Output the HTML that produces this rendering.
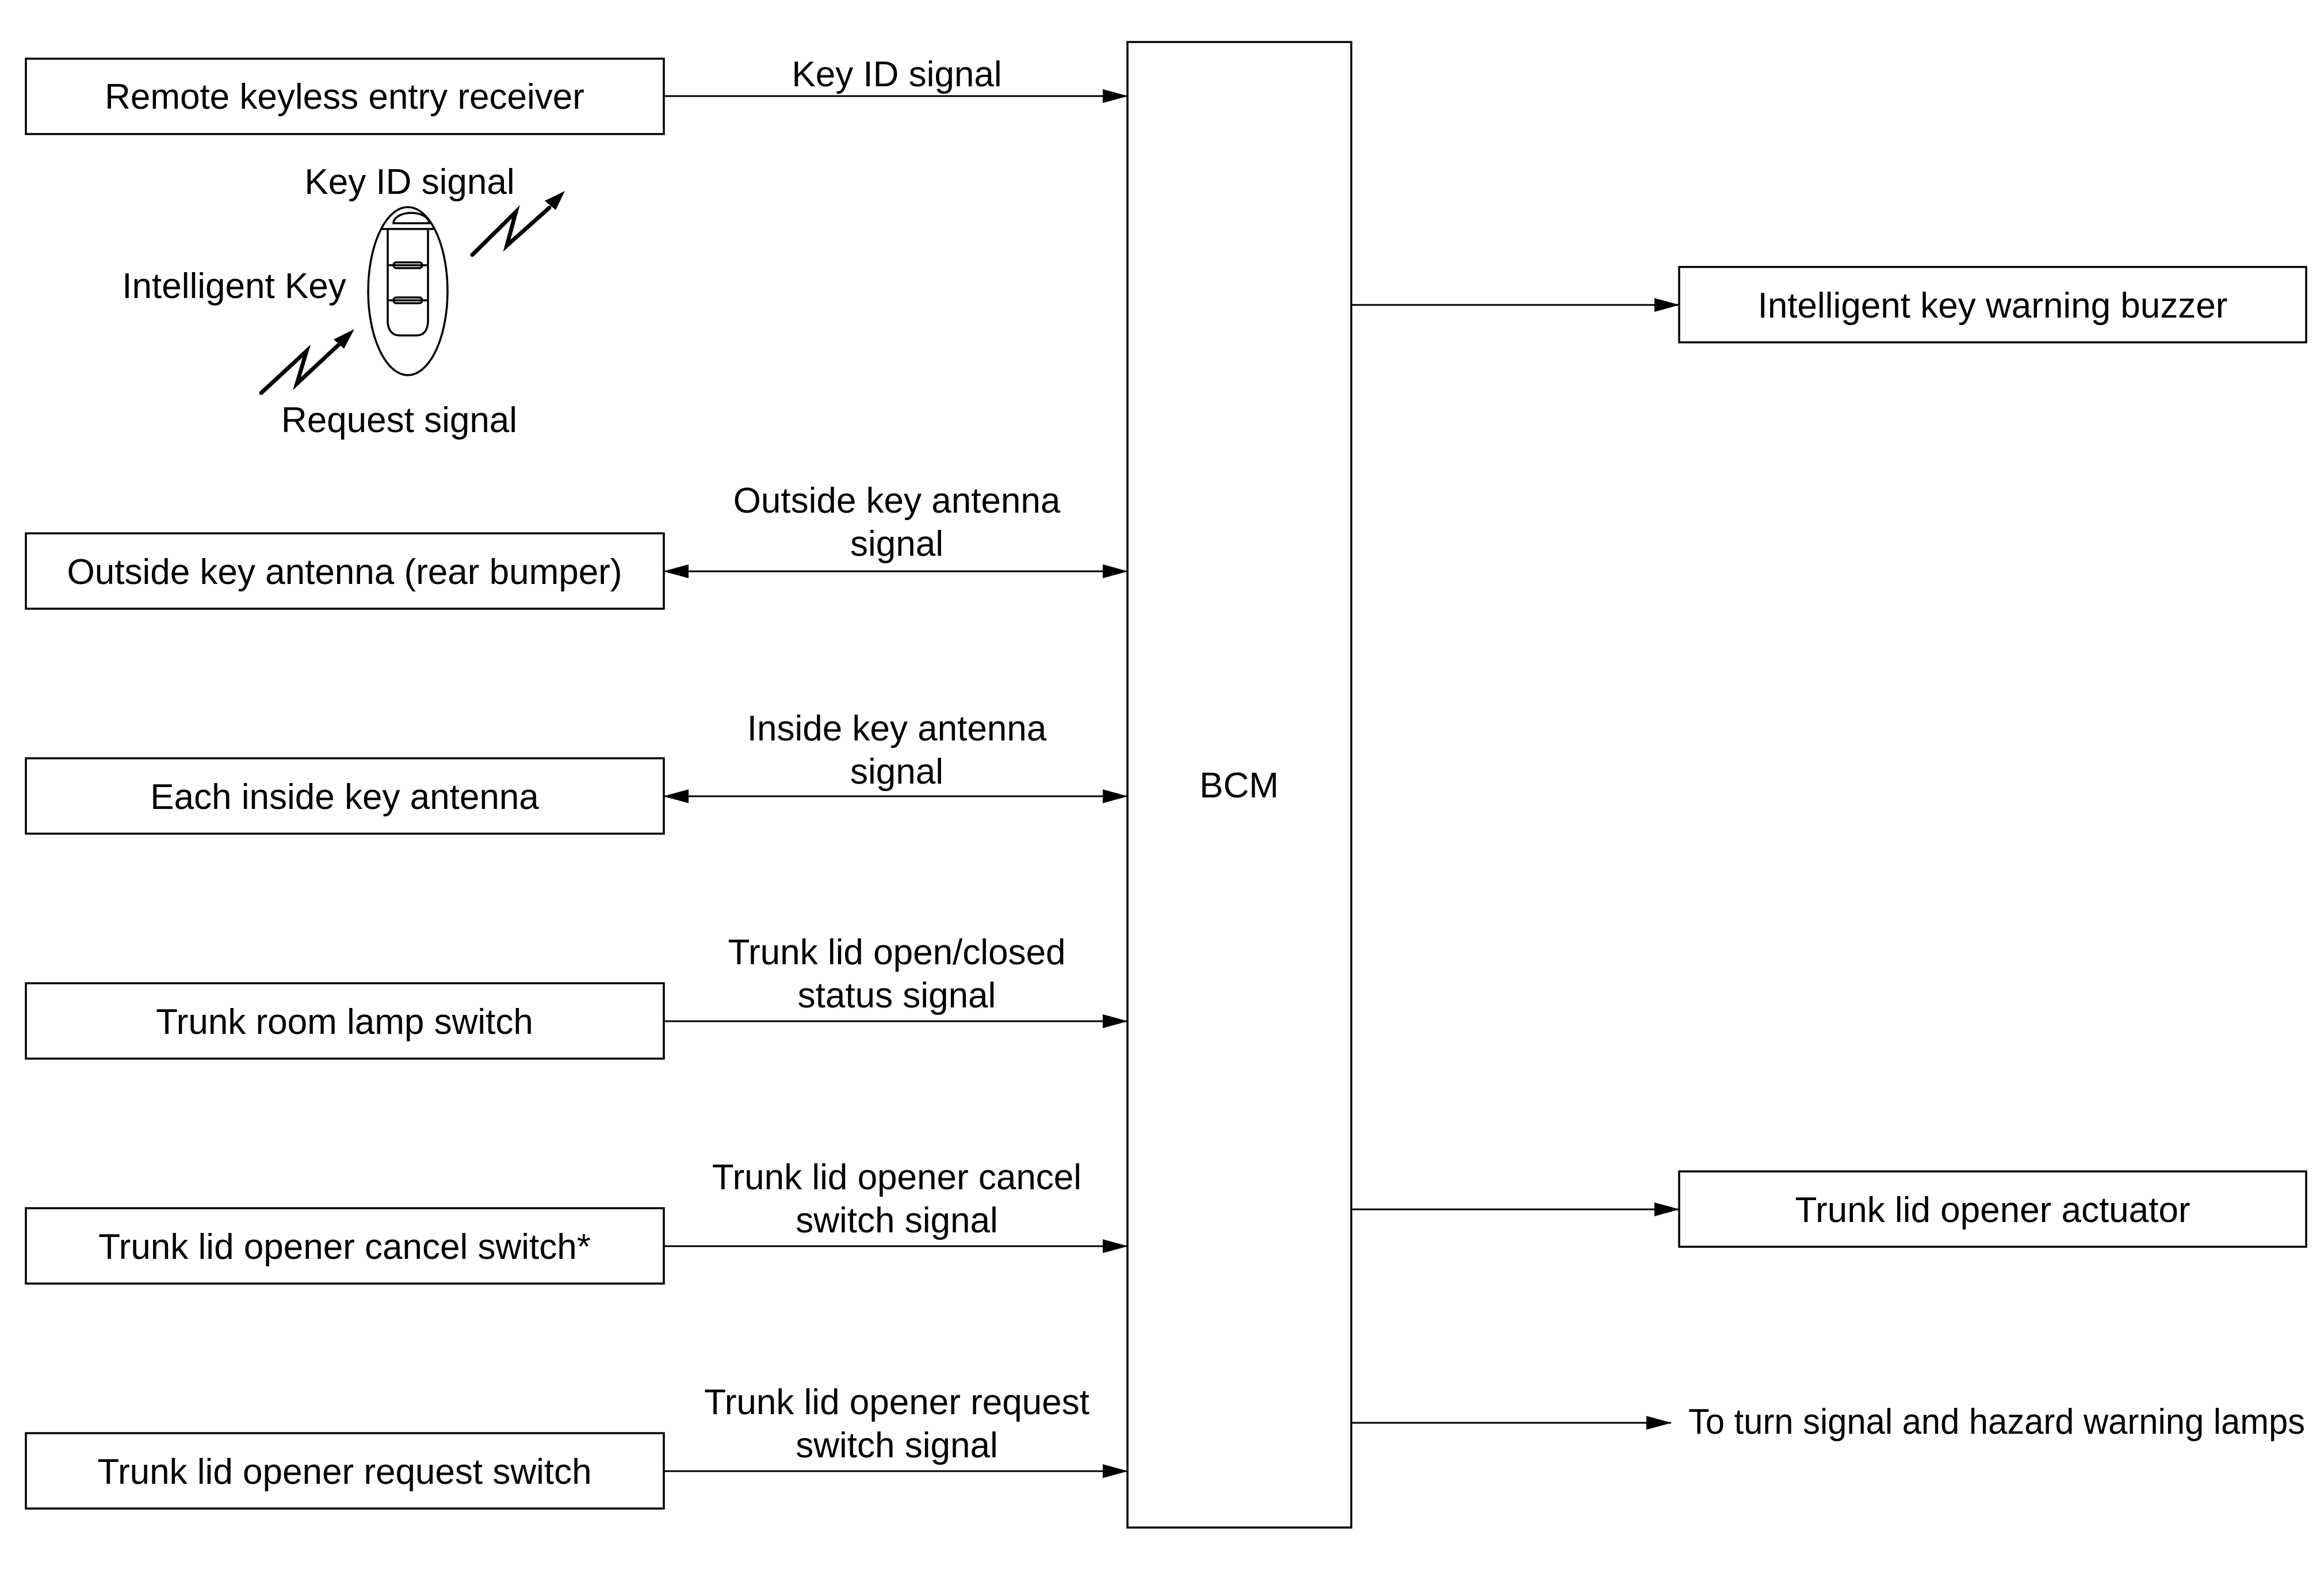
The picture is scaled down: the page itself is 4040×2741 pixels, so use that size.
<!DOCTYPE html>
<html><head><meta charset="utf-8"><style>html,body{margin:0;padding:0;background:#fff}svg{display:block}text{font-family:"Liberation Sans",sans-serif;font-size:62px;fill:#000}</style></head>
<body>
<svg width="4040" height="2741" viewBox="0 0 4040 2741" xmlns="http://www.w3.org/2000/svg">
<defs><marker id="a" markerWidth="44" markerHeight="24" refX="43" refY="12" orient="auto-start-reverse" markerUnits="userSpaceOnUse"><path d="M0,0 L44,12 L0,24 Z" fill="#000"/></marker></defs>
<g fill="none" stroke="#000" stroke-width="3.5">
<rect x="45" y="102" width="1109" height="131"/>
<rect x="45" y="927" width="1109" height="131"/>
<rect x="45" y="1318" width="1109" height="131"/>
<rect x="45" y="1709" width="1109" height="131"/>
<rect x="45" y="2100" width="1109" height="131"/>
<rect x="45" y="2491" width="1109" height="131"/>
<rect x="1960" y="73" width="389" height="2582"/>
<rect x="2919" y="464" width="1090" height="131"/>
<rect x="2919" y="2036" width="1090" height="131"/>
</g>
<g stroke="#000" stroke-width="3">
<line x1="1154" y1="167" x2="1960" y2="167" marker-end="url(#a)"/>
<line x1="1154" y1="993" x2="1960" y2="993" marker-start="url(#a)" marker-end="url(#a)"/>
<line x1="1154" y1="1384" x2="1960" y2="1384" marker-start="url(#a)" marker-end="url(#a)"/>
<line x1="1154" y1="1775" x2="1960" y2="1775" marker-end="url(#a)"/>
<line x1="1154" y1="2166" x2="1960" y2="2166" marker-end="url(#a)"/>
<line x1="1154" y1="2557" x2="1960" y2="2557" marker-end="url(#a)"/>
<line x1="2349" y1="530" x2="2919" y2="530" marker-end="url(#a)"/>
<line x1="2349" y1="2102" x2="2919" y2="2102" marker-end="url(#a)"/>
<line x1="2349" y1="2473" x2="2905" y2="2473" marker-end="url(#a)"/>
</g>
<g fill="none" stroke="#000" stroke-width="3.5">
<ellipse cx="709" cy="506" rx="69" ry="146"/>
<path d="M684,388 A31,18 0 0 1 746,388 Z"/>
<line x1="664" y1="398" x2="755" y2="398"/>
<path d="M674,398 L674,560 Q676,583 695,583 L724,583 Q742,583 744,560 L744,398"/>
<line x1="674" y1="461" x2="744" y2="461"/>
<rect x="684" y="456" width="50" height="10" rx="5"/>
<line x1="674" y1="522" x2="744" y2="522"/>
<rect x="684" y="517" width="50" height="10" rx="5"/>
</g>
<g fill="none" stroke="#000" stroke-width="7" stroke-linejoin="miter" stroke-linecap="round">
<polyline points="821,443 897,368 881,427 955,361"/>
<polyline points="454,683 533,610 516,667 590,598"/>
</g>
<path d="M982,332 L947,349 L966,365 Z" fill="#000"/>
<path d="M616,572 L580,590 L598,606 Z" fill="#000"/>
<g text-anchor="middle">
<text x="599" y="189">Remote keyless entry receiver</text>
<text x="599" y="1015">Outside key antenna (rear bumper)</text>
<text x="599" y="1406">Each inside key antenna</text>
<text x="599" y="1797">Trunk room lamp switch</text>
<text x="599" y="2188">Trunk lid opener cancel switch*</text>
<text x="599" y="2579">Trunk lid opener request switch</text>
<text x="3464" y="552">Intelligent key warning buzzer</text>
<text x="3464" y="2124">Trunk lid opener actuator</text>
<text x="2154" y="1386">BCM</text>
<text x="1559" y="150">Key ID signal</text>
<text x="712" y="337">Key ID signal</text>
<text x="407" y="518">Intelligent Key</text>
<text x="694" y="751">Request signal</text>
<text x="1559" y="891">Outside key antenna</text>
<text x="1559" y="966">signal</text>
<text x="1559" y="1287">Inside key antenna</text>
<text x="1559" y="1362">signal</text>
<text x="1559" y="1676">Trunk lid open/closed</text>
<text x="1559" y="1751">status signal</text>
<text x="1559" y="2067">Trunk lid opener cancel</text>
<text x="1559" y="2142">switch signal</text>
<text x="1559" y="2458">Trunk lid opener request</text>
<text x="1559" y="2533">switch signal</text>
</g>
<text x="2935" y="2492" textLength="1072" lengthAdjust="spacingAndGlyphs">To turn signal and hazard warning lamps</text>
</svg>
</body></html>
